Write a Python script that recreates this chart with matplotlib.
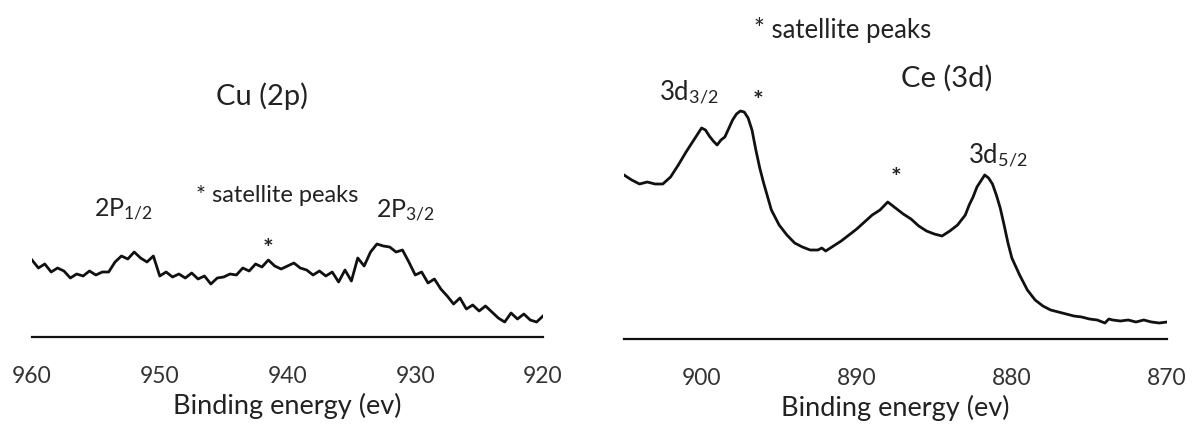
import matplotlib
matplotlib.use("Agg")
import matplotlib.pyplot as plt

plt.rcParams['font.family'] = ['Lato', 'DejaVu Sans']
plt.rcParams['mathtext.fontset'] = 'custom'
plt.rcParams['mathtext.rm'] = 'Lato'
plt.rcParams['mathtext.it'] = 'Lato:italic'

# ---- Cu (2p) spectrum: binding energy (eV) and intensity (a.u.) ----
cu_energy = [960.0, 959.5, 959.0, 958.5, 958.0, 957.5, 957.0, 956.5, 956.0, 955.5,
             955.0, 954.5, 954.0, 953.5, 953.0, 952.5, 952.0, 951.5, 951.0, 950.5,
             950.0, 949.5, 949.0, 948.5, 948.0, 947.5, 947.0, 946.5, 946.0, 945.5,
             945.0, 944.5, 944.0, 943.5, 943.0, 942.5, 942.0, 941.5, 941.0, 940.5,
             940.0, 939.5, 939.0, 938.5, 938.0, 937.5, 937.0, 936.5, 936.0, 935.5,
             935.0, 934.5, 934.0, 933.5, 933.0, 932.5, 932.0, 931.5, 931.0, 930.5,
             930.0, 929.5, 929.0, 928.5, 928.0, 927.5, 927.0, 926.5, 926.0, 925.5,
             925.0, 924.5, 924.0, 923.5, 923.0, 922.5, 922.0, 921.5, 921.0, 920.5,
             920.0]
cu_intensity = [77, 69, 73, 65, 69, 66, 59, 63, 61, 66,
                62, 65, 65, 75, 81, 78, 85, 79, 75, 81,
                61, 65, 60, 63, 59, 64, 58, 61, 53, 59,
                60, 63, 62, 69, 66, 73, 70, 77, 71, 68,
                71, 74, 69, 67, 62, 66, 61, 65, 55, 67,
                56, 79, 71, 85, 93, 91, 90, 85, 87, 75,
                62, 65, 54, 58, 48, 41, 33, 39, 28, 32,
                26, 31, 25, 19, 15, 24, 18, 23, 17, 15,
                21]

# ---- Ce (3d) spectrum ----
ce_energy = [905.0, 904.5, 904.0, 903.5, 903.0, 902.5, 902.0, 901.5, 901.0, 900.5,
             900.0, 899.75, 899.5, 899.25, 899.0, 898.75, 898.5, 898.0, 897.75, 897.5,
             897.25, 897.0, 896.75, 896.5, 896.25, 896.0, 895.5, 895.0, 894.5, 894.0,
             893.5, 893.0, 892.5, 892.25, 892.0, 891.5, 891.0, 890.5, 890.0, 889.5,
             889.0, 888.5, 888.0, 887.5, 887.0, 886.5, 886.0, 885.5, 885.0, 884.5,
             884.0, 883.5, 883.0, 882.75, 882.5, 882.25, 882.0, 881.75, 881.5, 881.25,
             881.0, 880.75, 880.5, 880.25, 880.0, 879.5, 879.0, 878.5, 878.0, 877.5,
             877.0, 876.5, 876.0, 875.5, 875.0, 874.5, 874.0, 873.75, 873.5, 873.0,
             872.5, 872.0, 871.5, 871.0, 870.5, 870.0]
ce_intensity = [164, 159, 155, 157, 155, 155, 162, 174, 187, 199,
                211, 209, 203, 198, 194, 199, 202, 219, 225, 228,
                227, 221, 209, 189, 171, 156, 129, 114, 104, 96,
                92, 89, 89, 91, 88, 93, 98, 104, 110, 117,
                124, 129, 137, 131, 125, 120, 113, 108, 105, 103,
                108, 114, 124, 134, 142, 152, 158, 164, 161, 155,
                144, 131, 114, 96, 81, 64, 49, 39, 33, 29,
                27, 25, 23, 22, 20, 19, 16, 20, 19, 18,
                19, 17, 19, 17, 16, 17]

cu_ticks = [960, 950, 940, 930, 920]
ce_ticks = [900, 890, 880, 870]
xlabel_text = "Binding energy (ev)"

W, H = 1192, 426
fig = plt.figure(figsize=(W / 100, H / 100), dpi=100)


def px_axes(x0, x1, ybase):
    return fig.add_axes([x0 / W, 1 - ybase / H, (x1 - x0) / W, ybase / H])


def style(ax, ticks, xlim, ylim):
    ax.set_xlim(*xlim)
    ax.set_ylim(*ylim)
    for s in ['top', 'left', 'right']:
        ax.spines[s].set_visible(False)
    ax.spines['bottom'].set_linewidth(1.6)
    ax.spines['bottom'].set_color('#111111')
    ax.set_yticks([])
    ax.set_xticks(ticks)
    ax.tick_params(axis='x', length=0, pad=21, labelsize=16.5, labelcolor='#333333')
    ax.set_xlabel(xlabel_text, fontsize=19.5, color='#222222', labelpad=4)
    ax.patch.set_alpha(0)


# left panel
ax1 = px_axes(32, 543, 337)
ax1.plot(cu_energy, cu_intensity, color='#111111', lw=2.0)
style(ax1, cu_ticks, (960, 920), (0, 337))

# right panel
ax2 = px_axes(624, 1167, 339)
ax2.plot(ce_energy, ce_intensity, color='#111111', lw=2.0)
style(ax2, ce_ticks, (905, 870), (0, 339))

tc = '#222222'


def ftext(x, y, s, size, **kw):
    fig.text(x / W, 1 - y / H, s, fontsize=size, color=tc, ha='center', va='center', **kw)


ftext(262, 96, "Cu (2p)", 21)
ftext(124, 210, r"2P$_{\mathrm{1/2}}$", 18)
ftext(277, 196, "* satellite peaks", 17)
ftext(406, 211, r"2P$_{\mathrm{3/2}}$", 18)
ftext(268, 250, "*", 18, fontweight='bold')

ftext(843, 30, "* satellite peaks", 18.5)
ftext(947, 78, "Ce (3d)", 21)
ftext(689, 92, r"3d$_{\mathrm{3/2}}$", 18.5)
ftext(758, 101, "*", 18, fontweight='bold')
ftext(896, 179, "*", 18, fontweight='bold')
ftext(998, 155, r"3d$_{\mathrm{5/2}}$", 18.5)

fig.savefig("out.png", dpi=100)
